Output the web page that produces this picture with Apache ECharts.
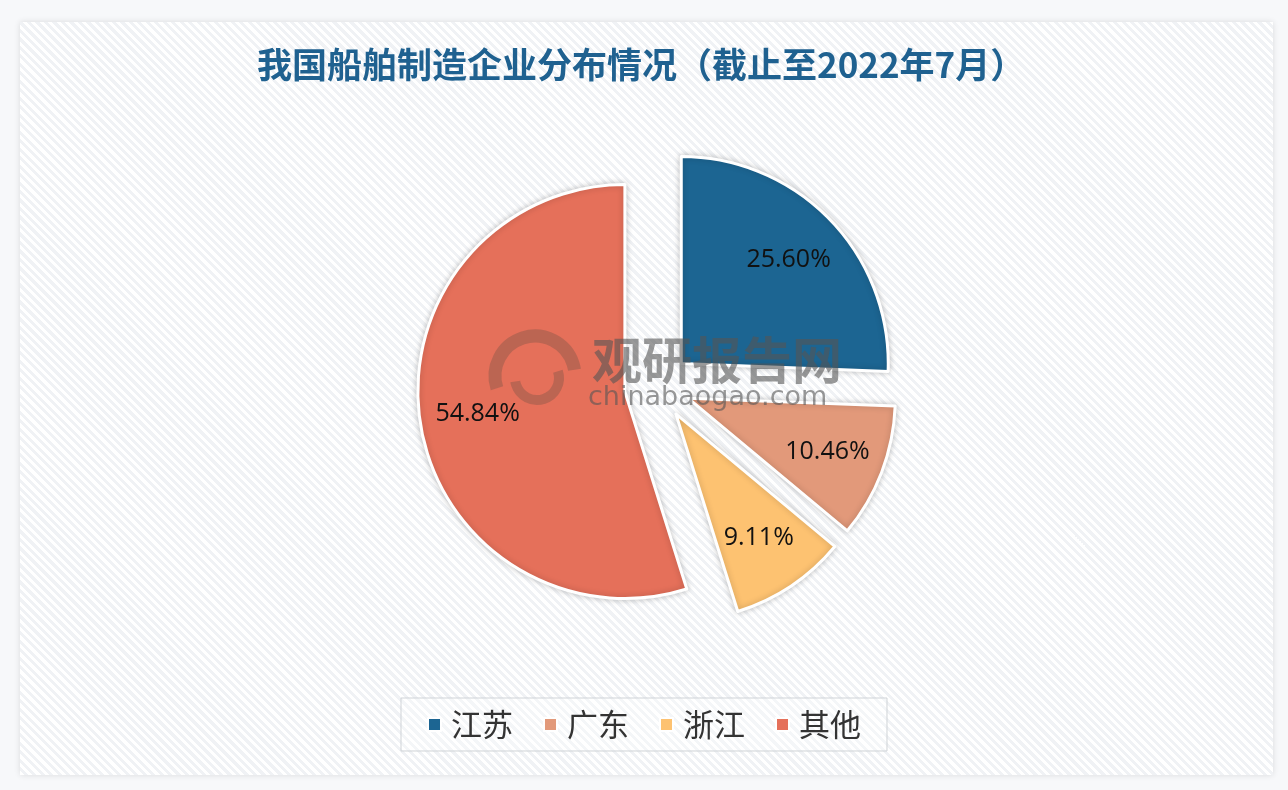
<!DOCTYPE html>
<html>
<head>
<meta charset="utf-8">
<script src="https://cdn.jsdelivr.net/npm/echarts@6/dist/echarts.min.js"></script>
<style>
  html, body { margin: 0; padding: 0; background: #f6f7f9; }
  #wrap { position: relative; width: 1288px; height: 790px; overflow: hidden; background: #f7f8fa; }
  #panel { position: absolute; left: 20px; top: 22px; width: 1253px; height: 753px;
    background: repeating-linear-gradient(45deg, #ffffff 0px, #ffffff 3px, #f0f2f5 3px, #f0f2f5 6px);
    box-shadow: 0 0 6px rgba(0,0,0,0.12); }
  #chart { position: absolute; left: 0; top: 0; width: 1288px; height: 790px; }
</style>
</head>
<body>
<div id="wrap">
  <div id="panel"></div>
  <div id="chart"></div>
</div>
<script>
const categories = ['江苏', '广东', '浙江', '其他'];
const values = [25.60, 10.46, 9.11, 54.84];
const colors = ['#1c6592', '#e2997a', '#fdc271', '#e5705a'];
const titleText = '我国船舶制造企业分布情况（截止至2022年7月）';

const pieData = categories.map((c, i) => ({
  name: c, value: values[i], selected: true,
  itemStyle: { color: colors[i] }
}));
const labelData = categories.map((c, i) => ({
  name: c, value: values[i], selected: true
}));

const chart = echarts.init(document.getElementById('chart'));
chart.setOption({
  animation: false,
  backgroundColor: 'transparent',
  title: {
    text: titleText,
    left: 257, top: 47, padding: 0,
    textStyle: { fontFamily: 'Noto Sans CJK SC', fontWeight: 'bold', fontSize: 35, color: '#1f6190' }
  },
  legend: {
    data: categories,
    left: 'center', top: 698,
    icon: 'rect', itemWidth: 13, itemHeight: 13, itemGap: 30,
    borderColor: '#cfd3d7', borderWidth: 1, padding: [11, 26],
    backgroundColor: 'rgba(255,255,255,0.3)',
    selectedMode: false,
    textStyle: { fontFamily: 'Noto Sans CJK SC', fontSize: 31, color: '#333', padding: [0, 0, 0, 5] }
  },
  graphic: [
    { type: 'arc', shape: { cx: 535, cy: 376, r: 40, startAngle: Math.PI * 0.9, endAngle: Math.PI * 1.95 },
      style: { stroke: 'rgba(110,80,70,0.35)', lineWidth: 13, fill: null }, z: 10, silent: true },
    { type: 'arc', shape: { cx: 537, cy: 378, r: 22, startAngle: Math.PI * 1.9, endAngle: Math.PI * 0.95 },
      style: { stroke: 'rgba(110,80,70,0.35)', lineWidth: 10, fill: null }, z: 10, silent: true },
    { type: 'text', left: 592, top: 335, z: 10, silent: true,
      style: { text: '观研报告网', font: 'bold 50px "Noto Sans CJK SC"', fill: 'rgba(85,85,85,0.6)' } },
    { type: 'text', left: 588, top: 384, z: 10, silent: true,
      style: { text: 'chinabaogao.com', font: '27px "DejaVu Sans"', fill: 'rgba(85,85,85,0.6)' } }
  ],
  series: [
    {
      type: 'pie',
      center: [657.5, 386.5],
      radius: [0, 207],
      startAngle: 90,
      clockwise: true,
      selectedMode: 'multiple',
      selectedOffset: 33,
      avoidLabelOverlap: false,
      label: { show: false },
      labelLine: { show: false },
      emphasis: { disabled: true },
      itemStyle: { borderColor: '#ffffff', borderWidth: 3, shadowBlur: 6, shadowColor: 'rgba(0,0,0,0.22)' },
      data: pieData
    },
    {
      type: 'pie',
      center: [657.5, 386.5],
      radius: [85, 207],
      startAngle: 90,
      clockwise: true,
      selectedMode: 'multiple',
      selectedOffset: 33,
      silent: true,
      avoidLabelOverlap: false,
      itemStyle: { color: 'rgba(0,0,0,0)', borderWidth: 0 },
      emphasis: { disabled: true },
      labelLine: { show: false },
      label: {
        show: true, position: 'inside',
        formatter: p => p.value.toFixed(2) + '%',
        fontFamily: 'Open Sans', fontSize: 25, color: '#111'
      },
      z: 5,
      data: labelData
    }
  ]
});
</script>
</body>
</html>
